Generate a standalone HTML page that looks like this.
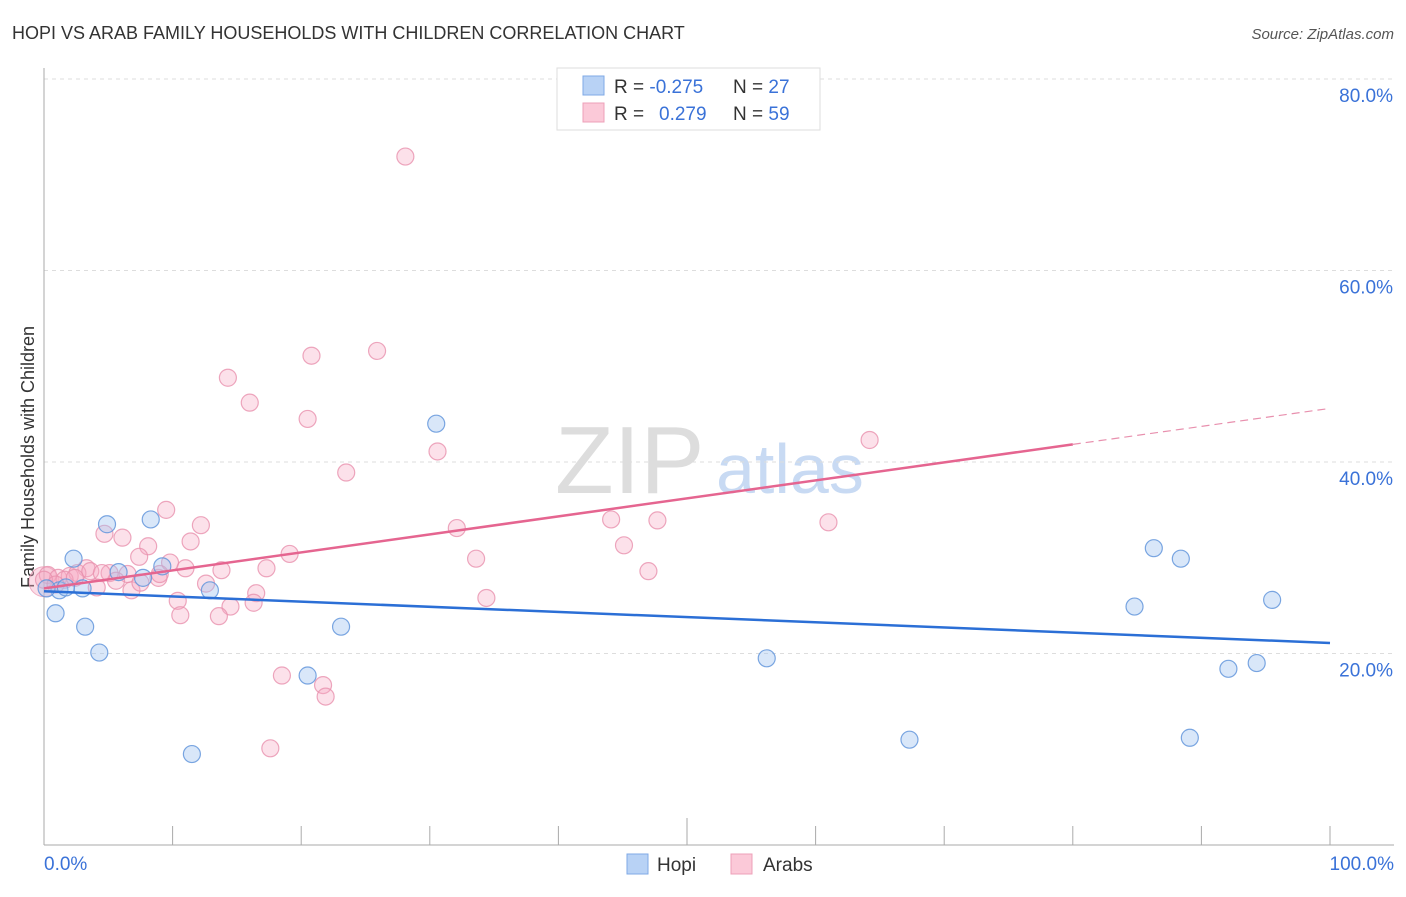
<!DOCTYPE html>
<html><head><meta charset="utf-8"><style>
body{margin:0;background:#fff;font-family:"Liberation Sans",sans-serif}
svg text{font-family:"Liberation Sans",sans-serif}
</style></head><body>
<svg width="1406" height="892" id="c">
<text x="12" y="39" font-size="18" fill="#333">HOPI VS ARAB FAMILY HOUSEHOLDS WITH CHILDREN CORRELATION CHART</text>
<text x="1394" y="39" font-size="15" fill="#555" font-style="italic" text-anchor="end">Source: ZipAtlas.com</text>
<text x="0" y="0" transform="translate(34,457) rotate(-90)" font-size="18" fill="#333" text-anchor="middle">Family Households with Children</text>
<g>
<text x="555" y="493" font-size="96" fill="#ddd" font-family="Liberation Serif,serif">ZIP</text>
<text x="716" y="493" font-size="70" fill="#c8daf3">atlas</text>
</g>
<g id="grid"></g><g id="axes"></g><g id="pts"></g><g id="lines"></g>
<g>
<rect x="557" y="68" width="263" height="62" fill="#fff" stroke="#ddd"/>
<rect x="583" y="76" width="21" height="19" fill="#b8d2f5" stroke="#7fa9e6"/>
<rect x="583" y="103" width="21" height="19" fill="#fbc9d8" stroke="#eea0b8"/>
<text x="614" y="93" font-size="19" fill="#333">R = <tspan fill="#3a72d8">-0.275</tspan><tspan x="733">N = </tspan><tspan fill="#3a72d8">27</tspan></text>
<text x="614" y="120" font-size="19" fill="#333">R = <tspan x="659" fill="#3a72d8">0.279</tspan><tspan x="733">N = </tspan><tspan fill="#3a72d8">59</tspan></text>
</g>
<g>
<rect x="627" y="854" width="21" height="20" fill="#b8d2f5" stroke="#7fa9e6"/>
<text x="657" y="871" font-size="19" fill="#333">Hopi</text>
<rect x="731" y="854" width="21" height="20" fill="#fbc9d8" stroke="#eea0b8"/>
<text x="763" y="871" font-size="19" fill="#333">Arabs</text>
</g>
</svg>
<script>
const yTicks=[20,40,60,80];
const yTickLabels=["20.0%","40.0%","60.0%","80.0%"];
const xTicks=[0,10,20,30,40,50,60,70,80,90,100];
const hopiX=[0.9,1.2,2.3,3.0,3.2,4.3,4.9,5.8,7.7,8.3,9.2,11.5,12.9,20.5,23.1,30.5,56.2,67.3,84.8,86.3,88.4,89.1,92.1,94.3,95.5,0.2,1.7];
const hopiY=[24.2,26.6,29.9,26.8,22.8,20.1,33.5,28.5,27.9,34.0,29.1,9.5,26.6,17.7,22.8,44.0,19.5,11.0,24.9,31.0,29.9,11.2,18.4,19.0,25.6,26.8,26.9];
const arabX=[28.1,25.9,20.8,14.3,16.0,20.5,64.2,30.6,23.5,9.5,12.2,32.1,44.1,47.7,61.0,4.7,6.1,8.1,11.4,45.1,7.4,33.6,19.1,9.8,11.0,17.3,13.8,47.0,3.3,5.1,6.5,8.9,4.1,5.6,6.8,12.6,16.5,34.4,10.4,14.5,16.3,10.6,13.6,18.5,21.7,21.9,17.6,0.3,1.1,2.0,2.6,1.6,3.6,7.5,9.0,0,0.9,2.4,4.5];
const arabY=[71.9,51.6,51.1,48.8,46.2,44.5,42.3,41.1,38.9,35.0,33.4,33.1,34.0,33.9,33.7,32.5,32.1,31.2,31.7,31.3,30.1,29.9,30.4,29.5,28.9,28.9,28.7,28.6,28.9,28.4,28.3,27.9,26.9,27.6,26.6,27.3,26.3,25.8,25.5,24.9,25.3,24.0,23.9,17.7,16.7,15.5,10.1,28.2,27.9,28.1,28.4,27.7,28.6,27.4,28.3,27.7,27.2,27.9,28.4];
const hopiTrend=[26.5,21.1];
const arabTrend=[26.8,45.6];
const X=v=>44+v*12.86, Y=v=>845-v*9.575;
const NS="http://www.w3.org/2000/svg";
function mk(p,t,a){const e=document.createElementNS(NS,t);for(const k in a)e.setAttribute(k,a[k]);p.appendChild(e);return e;}
const grid=document.getElementById('grid'),axes=document.getElementById('axes'),pts=document.getElementById('pts'),lines=document.getElementById('lines');
yTicks.forEach((t,i)=>{
 const l=mk(grid,'line',{x1:44,x2:1394,y1:Y(t),y2:Y(t),stroke:'#ddd','stroke-dasharray':'4,4'});
 
 
 const tx=mk(grid,'text',{x:1393,y:Y(t)+23,'font-size':19,fill:'#3a72d8','text-anchor':'end'});
 tx.textContent=yTickLabels[i];
 
 
});
const ya=mk(axes,'line',{x1:44,x2:44,y1:68,y2:845,stroke:'#aaa'});


const xa=mk(axes,'line',{x1:44,x2:1394,y1:845,y2:845,stroke:'#aaa'});


xTicks.forEach(t=>{
 const l=mk(axes,'line',{x1:X(t),x2:X(t),y1:t==50?818:826,y2:845,stroke:'#aaa'});
 
 
});
[[0,"0.0%","start",44],[100,"100.0%","end",1394]].forEach(d=>{
 const tx=mk(axes,'text',{x:d[3],y:870,'font-size':19,fill:'#3a72d8','text-anchor':d[2]});
 tx.textContent=d[1];
 
 
});
const big=mk(pts,'circle',{cx:X(0),cy:Y(27.5),r:15,fill:'rgba(245,170,195,0.4)',stroke:'rgba(232,145,174,0.7)'});


arabX.forEach((x,i)=>{
 const c=mk(pts,'circle',{cx:X(x),cy:Y(arabY[i]),r:8.5,fill:'rgba(245,170,195,0.35)',stroke:'rgba(232,145,174,0.8)','stroke-width':1.2});
 
 
});
hopiX.forEach((x,i)=>{
 const c=mk(pts,'circle',{cx:X(x),cy:Y(hopiY[i]),r:8.5,fill:'rgba(160,195,240,0.4)',stroke:'rgba(100,150,220,0.85)','stroke-width':1.2});
 
 
});
const hl=mk(lines,'line',{x1:X(0),y1:Y(hopiTrend[0]),x2:X(100),y2:Y(hopiTrend[1]),stroke:'#2b6fd6','stroke-width':2.5});


const a80=arabTrend[0]+(arabTrend[1]-arabTrend[0])*0.8;
const al=mk(lines,'line',{x1:X(0),y1:Y(arabTrend[0]),x2:X(80),y2:Y(a80),stroke:'#e56590','stroke-width':2.5});


const ad=mk(lines,'line',{x1:X(80),y1:Y(a80),x2:X(100),y2:Y(arabTrend[1]),stroke:'#e890ae','stroke-width':1.2,'stroke-dasharray':'8,5'});


</script>
</body></html>
